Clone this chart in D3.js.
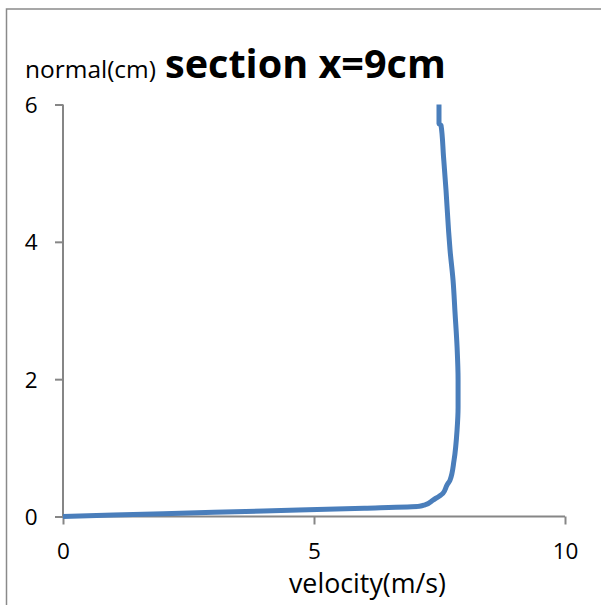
<!DOCTYPE html>
<html>
<head>
<meta charset="utf-8">
<script src="https://cdn.jsdelivr.net/npm/d3@7"></script>
<style>
  html, body { margin: 0; padding: 0; background: #fff; }
  svg { display: block; }
  text { font-family: "Open Sans", "Liberation Sans", sans-serif; fill: #000; }
</style>
</head>
<body>
<script>
// ---- data ----
const titleText = "section x=9cm";
const xTitle = "velocity(m/s)";
const yTitle = "normal(cm)";
const xTicks = [0, 5, 10];
const yTicks = [0, 2, 4, 6];
const velocity = [0, 2.0, 4.0, 6.0, 7.10, 7.21, 7.37, 7.57, 7.65, 7.71, 7.79, 7.85, 7.87, 7.87, 7.85, 7.81, 7.77, 7.71, 7.68, 7.63, 7.58, 7.53, 7.49, 7.49];
const normal   = [0, 0.04, 0.08, 0.12, 0.15, 0.17, 0.24, 0.34, 0.46, 0.53, 0.82, 1.26, 1.59, 1.99, 2.47, 2.96, 3.44, 3.88, 4.17, 4.75, 5.24, 5.70, 5.72, 6.0];

const W = 601, H = 605;
const svg = d3.select("body").append("svg").attr("width", W).attr("height", H);

// outer chart border (extends past the window on right/bottom)
svg.append("rect").attr("x", 6.5).attr("y", 9).attr("width", 700).attr("height", 700)
  .attr("fill", "none").attr("stroke", "#8a8a8a").attr("stroke-width", 1.5);

const x = d3.scaleLinear().domain([0, 10]).range([63, 565]);
const y = d3.scaleLinear().domain([0, 6]).range([516.5, 104.5]);
const axisColor = "#868686";

// x axis
const gx = svg.append("g").attr("transform", `translate(0,${y(0)})`)
  .call(d3.axisBottom(x).tickValues(xTicks).tickSize(8).tickPadding(10).tickFormat(d3.format("d")));
// y axis
const gy = svg.append("g").attr("transform", `translate(${x(0)},0)`)
  .call(d3.axisLeft(y).tickValues(yTicks).tickSize(8).tickPadding(0).tickFormat(d3.format("d")));

[gx, gy].forEach(g => {
  g.select(".domain").attr("stroke", axisColor).attr("stroke-width", 2);
  g.selectAll(".tick line").attr("stroke", axisColor).attr("stroke-width", 2);
  g.selectAll(".tick text").attr("font-family", '"Open Sans", sans-serif').attr("font-size", 22.5).attr("fill", "#000");
});
gx.selectAll(".domain").attr("d", `M${x(0)},0H${x(10)}`);
gy.selectAll(".domain").attr("d", `M0,${y(6)}V${y(0)}`);
gx.selectAll(".tick text").attr("y", 0).attr("dy", 0).attr("transform", "translate(0,42)");
gy.selectAll(".tick text").attr("x", -25.5).attr("dy", "0.35em");

// series line
const pts = velocity.map((v, i) => [v, normal[i]]);
const line = d3.line().x(d => x(d[0])).y(d => y(d[1])).curve(d3.curveMonotoneY);
svg.append("path").datum(pts).attr("d", line)
  .attr("fill", "none").attr("stroke", "#4A7EBB").attr("stroke-width", 5)
  .attr("stroke-linejoin", "round").attr("stroke-linecap", "butt");

// helper: fit text to a target width by adjusting font-size
function fit(sel, target) {
  const w = sel.node().getComputedTextLength();
  const fs = parseFloat(sel.attr("font-size"));
  sel.attr("font-size", (fs * target / w).toFixed(2));
}

const yt = svg.append("text").attr("x", 25).attr("y", 78).attr("font-size", 24).text(yTitle);
fit(yt, 131);
const tt = svg.append("text").attr("x", 165).attr("y", 78).attr("font-size", 40).attr("font-weight", "bold").text(titleText);
fit(tt, 281);
const xt = svg.append("text").attr("x", 289).attr("y", 593).attr("font-size", 26).text(xTitle);
fit(xt, 157);
</script>
</body>
</html>
